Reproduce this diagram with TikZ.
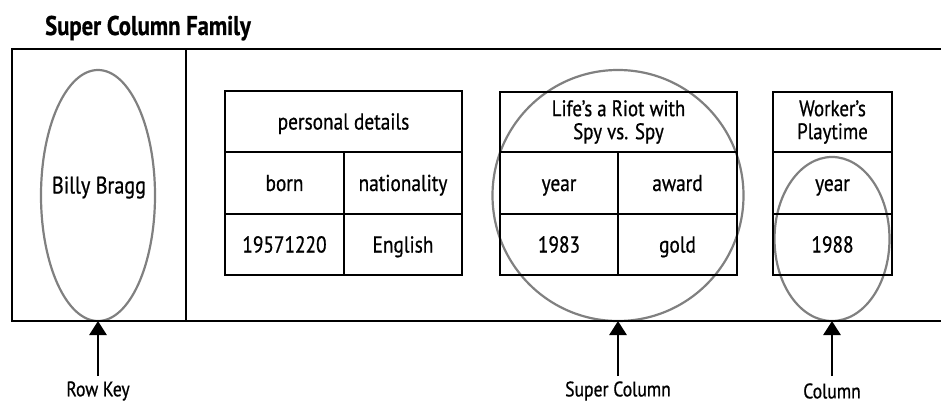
\documentclass[tikz,border=0pt]{standalone}
\usepackage{fontspec}
\setmainfont{PT Sans}[FakeStretch=0.84, RawFeature={embolden=0.7}]
\usetikzlibrary{arrows.meta,shapes.geometric}
\definecolor{ringgray}{HTML}{808080}
\tikzset{
  frameline/.style={line width=2.8pt, line cap=rect},
  cellbox/.style={draw, line width=2.8pt, inner sep=0pt, outer sep=0pt,
    font=\fontsize{23}{24}\selectfont, align=center},
  onerow/.style={text height=16pt, text depth=0pt},
  ring/.style={draw=ringgray, line width=2.2pt, ellipse, inner sep=0pt, outer sep=0pt},
  pointer/.style={line width=2.8pt, -{Triangle[width=17pt,length=14pt]}},
  caption/.style={font=\fontsize{21}{22}\selectfont, inner sep=0pt},
}
\begin{document}
\begin{tikzpicture}[x=1pt,y=-1pt]
\useasboundingbox (0,0) rectangle (941,403);

% title
\node[anchor=base west, inner sep=0pt, font=\fontsize{27}{28}\selectfont\bfseries] (title) at (45,35) {Super Column Family};

% highlighted regions
\node[ring, minimum width=114pt, minimum height=251pt] (rkring) at (98,195.5) {};
\node[ring, minimum width=251pt, minimum height=251pt, circle] (scring) at (618,195.5) {};
\node[ring, minimum width=115pt, minimum height=164pt] (colring) at (832,239) {};

% column family frame
\node[draw, line width=2.8pt, minimum width=174pt, minimum height=272pt, inner sep=0pt, outer sep=0pt,
      text height=17pt, text depth=0pt, font=\fontsize{24}{25}\selectfont] (rowkey) at (99,185) {Billy Bragg};
\draw[frameline] (rowkey.north east) -- (941,49);
\draw[frameline] (rowkey.south east) -- (941,321);

% personal details
\node[cellbox, onerow, minimum width=237pt, minimum height=61pt] (pdhead) at (343.5,121.5) {personal details};
\node[cellbox, onerow, minimum width=119pt, minimum height=62pt] (pdborn) at (284.5,183) {born};
\node[cellbox, onerow, minimum width=118pt, minimum height=62pt] (pdnat) at (403,183) {nationality};
\node[cellbox, onerow, minimum width=119pt, minimum height=61pt] (pdbornv) at (284.5,244.5) {19571220};
\node[cellbox, onerow, minimum width=118pt, minimum height=61pt] (pdnatv) at (403,244.5) {English};

% Life's a Riot with Spy vs. Spy
\node[cellbox, minimum width=237pt, minimum height=60pt, font=\fontsize{22.5}{23}\selectfont] (lrhead) at (618.5,122) {Life’s a Riot with\\Spy vs. Spy};
\node[cellbox, onerow, minimum width=118pt, minimum height=62pt] (lryear) at (559,183) {year};
\node[cellbox, onerow, minimum width=119pt, minimum height=62pt] (lraward) at (677.5,183) {award};
\node[cellbox, onerow, minimum width=118pt, minimum height=61pt] (lryearv) at (559,244.5) {1983};
\node[cellbox, onerow, minimum width=119pt, minimum height=61pt] (lrawardv) at (677.5,244.5) {gold};

% Worker's Playtime
\node[cellbox, minimum width=119pt, minimum height=60pt, font=\fontsize{22.5}{23}\selectfont] (wphead) at (832.5,122) {Worker’s\\Playtime};
\node[cellbox, onerow, minimum width=119pt, minimum height=62pt] (wpyear) at (832.5,183) {year};
\node[cellbox, onerow, minimum width=119pt, minimum height=61pt] (wpyearv) at (832.5,244.5) {1988};

% captions and pointers
\node[caption] (rklabel) at (98,391) {Row Key};
\node[caption] (sclabel) at (618,391) {Super Column};
\node[caption] (collabel) at (832,391) {Column};
\coordinate (rkfoot) at (98,376);
\coordinate (scfoot) at (618,376);
\coordinate (colfoot) at (832,376);
\draw[pointer] (rkfoot) -- (rkring.south);
\draw[pointer] (scfoot) -- (scring.south);
\draw[pointer] (colfoot) -- (colring.south);
\end{tikzpicture}
\end{document}
